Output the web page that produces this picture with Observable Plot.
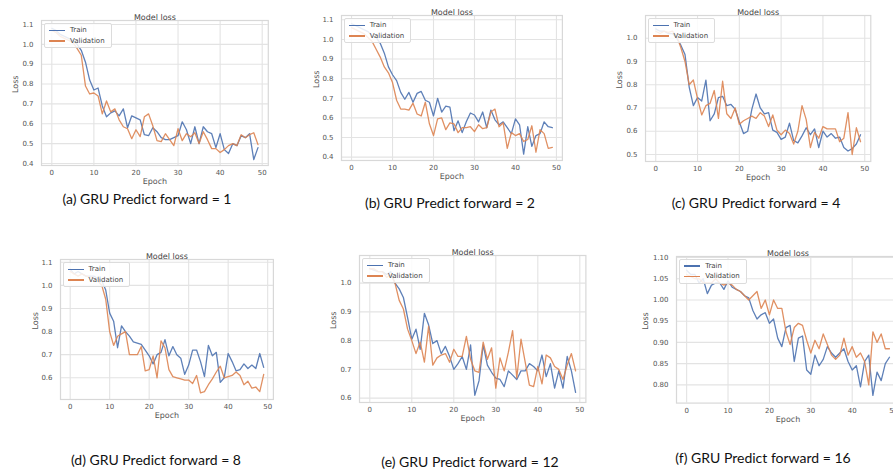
<!DOCTYPE html>
<html>
<head>
<meta charset="utf-8">
<script src="https://cdn.jsdelivr.net/npm/d3@7"></script>
<script src="https://cdn.jsdelivr.net/npm/@observablehq/plot@0.6"></script>
<style>
  html, body { margin: 0; padding: 0; background: #fff; }
  body { width: 893px; height: 472px; overflow: hidden; }
  #page { position: relative; width: 893px; height: 472px; overflow: hidden; }
  .legend { position: absolute; background: rgba(255,255,255,0.85); border: 1px solid #dcdcdc; border-radius: 2px;
            padding: 1px 6px 1px 4px; font: 7px "DejaVu Sans", sans-serif; color: #444; }
  .legend .row { display: flex; align-items: center; height: 10.5px; white-space: nowrap; }
  .legend .sw { width: 16px; height: 1.5px; margin-right: 5px; }
  .caption { position: absolute; transform: translate(-50%, -50%); white-space: nowrap;
             font: 14px Lato, "Open Sans", sans-serif; color: #111; }
</style>
</head>
<body>
<div id="page"></div>
<script>
// ---- data ----
const epochs = d3.range(0, 50);
const xTickValues = [0, 10, 20, 30, 40, 50];
const seriesNames = ["Train", "Validation"];
const seriesColors = ["#4c72b0", "#dd8452"];

const trainA = [1.08,1.07,1.05,1.04,1.03,1.02,1.00,0.97,0.91,0.82,0.77,0.78,0.69,0.635,0.655,0.665,0.64,0.675,0.58,0.64,0.63,0.62,0.545,0.54,0.58,0.56,0.53,0.52,0.52,0.53,0.54,0.61,0.57,0.50,0.585,0.50,0.585,0.56,0.55,0.48,0.55,0.47,0.45,0.50,0.49,0.54,0.53,0.55,0.42,0.48];
const valA   = [1.07,1.06,1.04,1.03,1.02,1.01,0.98,0.945,0.79,0.75,0.755,0.74,0.65,0.715,0.66,0.675,0.62,0.585,0.575,0.525,0.57,0.535,0.635,0.65,0.59,0.515,0.51,0.55,0.52,0.49,0.575,0.515,0.55,0.535,0.555,0.50,0.56,0.52,0.475,0.475,0.455,0.47,0.49,0.50,0.49,0.545,0.53,0.545,0.555,0.495];

const trainB = [1.08,1.07,1.06,1.05,1.04,1.02,1.01,0.98,0.93,0.86,0.82,0.79,0.73,0.695,0.73,0.68,0.725,0.735,0.69,0.68,0.61,0.70,0.63,0.66,0.655,0.535,0.585,0.525,0.58,0.625,0.615,0.58,0.63,0.55,0.64,0.59,0.565,0.58,0.55,0.52,0.595,0.565,0.415,0.555,0.455,0.51,0.52,0.58,0.555,0.55];
const valB   = [1.06,1.05,1.04,1.03,1.01,0.99,0.95,0.91,0.86,0.83,0.78,0.69,0.645,0.645,0.64,0.675,0.62,0.61,0.68,0.57,0.51,0.595,0.60,0.54,0.575,0.57,0.525,0.55,0.55,0.555,0.53,0.565,0.545,0.55,0.63,0.645,0.555,0.575,0.445,0.525,0.51,0.52,0.48,0.49,0.56,0.425,0.54,0.52,0.445,0.45];

const trainC = [1.04,1.03,1.03,1.02,1.02,1.00,0.97,0.93,0.79,0.71,0.745,0.73,0.82,0.645,0.675,0.745,0.75,0.71,0.715,0.695,0.64,0.59,0.60,0.695,0.76,0.70,0.675,0.68,0.605,0.595,0.565,0.575,0.635,0.56,0.55,0.58,0.615,0.585,0.61,0.53,0.60,0.575,0.59,0.57,0.575,0.53,0.515,0.525,0.545,0.585];
const valC   = [1.03,1.02,1.03,1.025,1.03,1.01,0.96,0.90,0.80,0.82,0.74,0.67,0.71,0.72,0.775,0.655,0.815,0.675,0.655,0.70,0.63,0.645,0.655,0.665,0.655,0.68,0.665,0.62,0.67,0.605,0.585,0.605,0.59,0.545,0.60,0.71,0.65,0.53,0.595,0.57,0.62,0.61,0.61,0.61,0.555,0.57,0.68,0.50,0.615,0.555];

const trainD = [1.07,1.05,1.06,1.05,1.04,1.04,1.04,1.03,1.02,0.98,0.88,0.845,0.73,0.825,0.80,0.78,0.755,0.75,0.745,0.72,0.695,0.66,0.70,0.71,0.765,0.695,0.735,0.70,0.685,0.615,0.655,0.72,0.72,0.67,0.605,0.74,0.695,0.71,0.58,0.60,0.705,0.67,0.63,0.635,0.66,0.64,0.655,0.64,0.705,0.645];
const valD   = [1.06,1.05,1.04,1.05,1.04,1.035,1.03,1.02,1.00,0.94,0.80,0.74,0.78,0.79,0.80,0.70,0.70,0.70,0.735,0.63,0.635,0.695,0.60,0.76,0.73,0.635,0.605,0.60,0.595,0.59,0.59,0.575,0.61,0.535,0.54,0.57,0.595,0.625,0.65,0.60,0.605,0.61,0.625,0.61,0.57,0.585,0.555,0.56,0.54,0.615];

const trainE = [1.05,1.045,1.04,1.04,1.03,1.04,1.00,0.98,0.95,0.88,0.805,0.84,0.77,0.895,0.855,0.79,0.80,0.755,0.78,0.745,0.70,0.72,0.745,0.70,0.785,0.61,0.66,0.785,0.715,0.69,0.67,0.665,0.64,0.695,0.68,0.665,0.695,0.695,0.72,0.71,0.695,0.75,0.675,0.72,0.635,0.695,0.635,0.745,0.695,0.62];
const valE   = [1.05,1.05,1.04,1.04,1.02,1.03,1.00,0.94,0.91,0.84,0.80,0.755,0.795,0.725,0.85,0.715,0.74,0.75,0.755,0.725,0.77,0.745,0.745,0.815,0.735,0.695,0.69,0.795,0.735,0.775,0.635,0.74,0.695,0.76,0.835,0.67,0.805,0.725,0.645,0.64,0.71,0.65,0.75,0.74,0.71,0.70,0.665,0.715,0.755,0.695];

const trainF = [1.07,1.06,1.06,1.04,1.05,1.015,1.035,1.04,1.04,1.025,1.045,1.03,1.025,1.02,1.01,1.005,0.975,0.955,0.965,0.97,0.945,0.955,0.91,0.89,0.935,0.94,0.855,0.91,0.915,0.835,0.825,0.87,0.845,0.86,0.89,0.875,0.865,0.875,0.885,0.855,0.835,0.845,0.795,0.855,0.87,0.775,0.83,0.81,0.85,0.865];
const valF   = [1.06,1.055,1.05,1.05,1.04,1.04,1.04,1.05,1.04,1.035,1.04,1.035,1.025,1.02,1.01,1.00,1.01,1.02,0.98,1.00,0.965,1.00,0.98,0.98,0.925,0.895,0.935,0.945,0.94,0.905,0.875,0.905,0.885,0.92,0.895,0.87,0.86,0.87,0.91,0.87,0.89,0.865,0.875,0.855,0.80,0.925,0.90,0.92,0.885,0.885];

const yTicksA = [0.4,0.5,0.6,0.7,0.8,0.9,1.0,1.1];
const yTicksC = [0.5,0.6,0.7,0.8,0.9,1.0];
const yTicksD = [0.6,0.7,0.8,0.9,1.0,1.1];
const yTicksE = [0.6,0.7,0.8,0.9,1.0];
const yTicksF = [0.80,0.85,0.90,0.95,1.00,1.05,1.10];

const captions = ["(a) GRU Predict forward = 1","(b) GRU Predict forward = 2","(c) GRU Predict forward = 4",
                  "(d) GRU Predict forward = 8","(e) GRU Predict forward = 12","(f) GRU Predict forward = 16"];

// ---- layout of each panel (frame box in page pixels) ----
const panels = [
  {train: trainA, val: valA, L: 41,    R: 267.8, T: 20,    B: 165,   y: [0.390, 1.120], yt: yTicksA, fmt: ".1f", lossDx: -26, cap: [147, 198]},
  {train: trainB, val: valB, L: 340.7, R: 561.6, T: 15,    B: 160,   y: [0.383, 1.122], yt: yTicksA, fmt: ".1f", lossDx: -25, cap: [450, 202]},
  {train: trainC, val: valC, L: 644.5, R: 869.8, T: 15,    B: 161,   y: [0.470, 1.0975], yt: yTicksC, fmt: ".1f", lossDx: -26, cap: [756, 201.5]},
  {train: trainD, val: valD, L: 59.6,  R: 272.5, T: 259,   B: 399,   y: [0.506, 1.112], yt: yTicksD, fmt: ".1f", lossDx: -25, cap: [156, 459]},
  {train: trainE, val: valE, L: 359,   R: 585.4, T: 255,   B: 402,   y: [0.585, 1.096], yt: yTicksE, fmt: ".1f", lossDx: -26, cap: [470, 460.5]},
  {train: trainF, val: valF, L: 676.2, R: 899.3, T: 255.7, B: 402.3, y: [0.757, 1.1024], yt: yTicksF, fmt: ".2f", lossDx: -31, cap: [763, 457]}
];

const page = document.getElementById("page");
const mL = 44, mR = 10, mT = 16, mB = 26;

panels.forEach((p, i) => {
  const data = [
    ...epochs.map(e => ({epoch: e, loss: p.train[e], series: seriesNames[0]})),
    ...epochs.map(e => ({epoch: e, loss: p.val[e], series: seriesNames[1]}))
  ];
  const svg = Plot.plot({
    width: p.R - p.L + mL + mR,
    height: p.B - p.T + mT + mB,
    marginLeft: mL, marginRight: mR, marginTop: mT, marginBottom: mB,
    style: {fontFamily: "DejaVu Sans, sans-serif", fontSize: "7px", color: "#555", background: "transparent", overflow: "visible"},
    x: {domain: [-2.45, 51.45], label: null},
    y: {domain: p.y, label: null},
    color: {domain: seriesNames, range: seriesColors},
    marks: [
      Plot.gridX(xTickValues, {stroke: "#e3e3e3", strokeOpacity: 1, strokeWidth: 1.1}),
      Plot.gridY(p.yt, {stroke: "#e3e3e3", strokeOpacity: 1, strokeWidth: 1.1}),
      Plot.frame({stroke: "#d8d8d8", strokeWidth: 1.2}),
      Plot.axisX(xTickValues, {tickSize: 0, tickPadding: 5, tickFormat: d => String(d), label: null}),
      Plot.axisY(p.yt, {tickSize: 0, tickPadding: 8, tickFormat: d3.format(p.fmt), label: null}),
      Plot.line(data, {x: "epoch", y: "loss", z: "series", stroke: "series", strokeWidth: 1.3, strokeOpacity: 0.9}),
      Plot.text(["Model loss"], {text: d => d, frameAnchor: "top", dy: -6.5, fontSize: 8, fill: "#444"}),
      Plot.text(["Epoch"], {text: d => d, frameAnchor: "bottom", dy: 19, fontSize: 8, fill: "#555"}),
      Plot.text(["Loss"], {text: d => d, frameAnchor: "left", dx: p.lossDx, rotate: -90, fontSize: 8, fill: "#555"})
    ]
  });
  svg.style.position = "absolute";
  svg.style.left = (p.L - mL) + "px";
  svg.style.top = (p.T - mT) + "px";
  svg.style.maxWidth = "none";
  page.appendChild(svg);

  // legend (upper left, inside the frame)
  const lg = document.createElement("div");
  lg.className = "legend";
  lg.style.left = (p.L + 3) + "px";
  lg.style.top = (p.T + 3) + "px";
  seriesNames.forEach((n, k) => {
    const row = document.createElement("div");
    row.className = "row";
    const sw = document.createElement("span");
    sw.className = "sw";
    sw.style.background = seriesColors[k];
    const tx = document.createElement("span");
    tx.textContent = n;
    row.appendChild(sw); row.appendChild(tx);
    lg.appendChild(row);
  });
  page.appendChild(lg);

  const cap = document.createElement("div");
  cap.className = "caption";
  cap.style.left = p.cap[0] + "px";
  cap.style.top = p.cap[1] + "px";
  cap.textContent = captions[i];
  page.appendChild(cap);
});
</script>
</body>
</html>
